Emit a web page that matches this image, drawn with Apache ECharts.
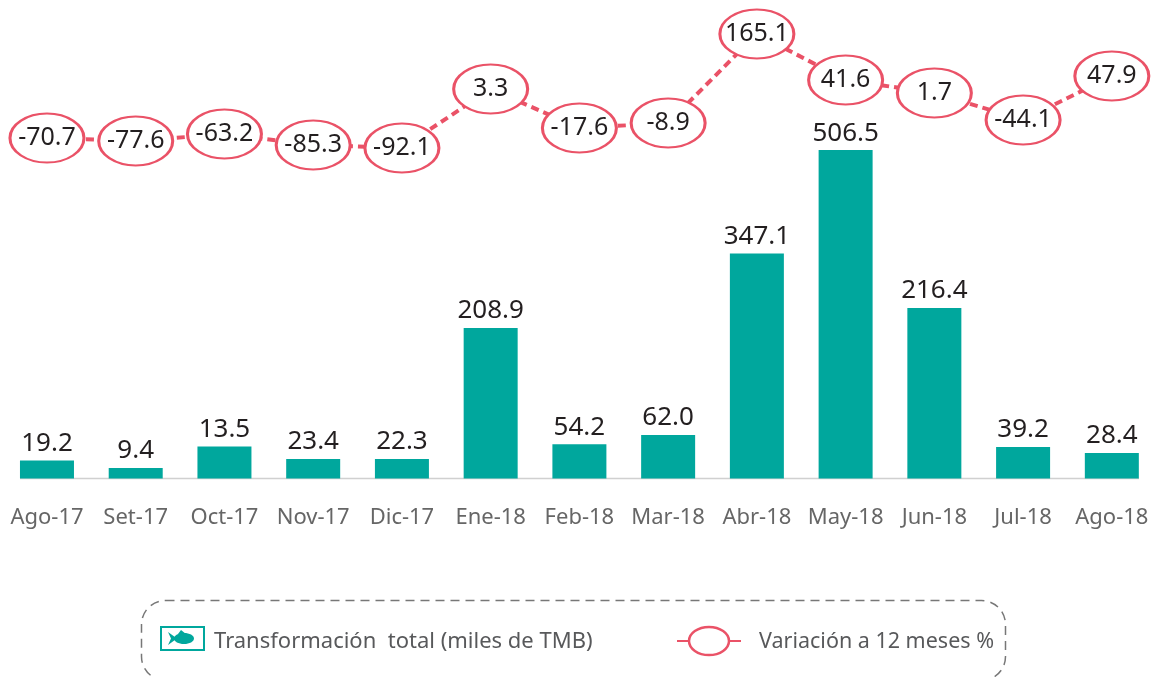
<!DOCTYPE html>
<html lang="es">
<head>
    <meta charset="UTF-8">
    <title>Transformación total</title>
    <script src="https://cdn.jsdelivr.net/npm/echarts@6/dist/echarts.min.js"></script>
    <style>
        html, body {margin: 0; padding: 0; background: #fff;}
    </style>
</head>
<body>
<div id="chart" style="width: 1157px;height: 677px;"></div>
<script>
    let months = ['Ago-17', 'Set-17', 'Oct-17', 'Nov-17', 'Dic-17', 'Ene-18', 'Feb-18', 'Mar-18', 'Abr-18', 'May-18', 'Jun-18', 'Jul-18', 'Ago-18'];
    // printed numbers
    let tmbLabels = ['19.2', '9.4', '13.5', '23.4', '22.3', '208.9', '54.2', '62.0', '347.1', '506.5', '216.4', '39.2', '28.4'];
    let varLabels = ['-70.7', '-77.6', '-63.2', '-85.3', '-92.1', '3.3', '-17.6', '-8.9', '165.1', '41.6', '1.7', '-44.1', '47.9'];
    // the picture does not draw to scale, these are the heights as read off the bars / ellipses
    let tmbDrawn = [27.8, 16.2, 49.3, 30, 30, 232, 53, 67, 347.1, 506.5, 263, 48.6, 39.3];
    let varDrawn = [-69.6, -76.3, -60.5, -85.3, -92.1, 40.9, -47, -35.7, 165, 61.2, 31.9, -29, 70.2];

    let teal = '#00A79D';
    let red = '#EA5267';
    let font = '"Noto Sans", sans-serif';

    var myChart = echarts.init(document.getElementById('chart'));
    var option = {
        animation: false,
        grid: {left: 2.6, right: 0.8, top: 0, bottom: 198.5},
        xAxis: {
            type: 'category',
            data: months,
            axisTick: {show: false},
            axisLine: {show: false},
            axisLabel: {color: '#666666', fontFamily: font, fontSize: 22, margin: 28, interval: 0}
        },
        yAxis: [
            {type: 'value', min: 0, max: 738, show: false},
            {type: 'value', min: -837, max: 241.5, show: false}
        ],
        series: [
            {
                name: 'Transformación total (miles de TMB)',
                type: 'bar',
                yAxisIndex: 0,
                data: tmbDrawn,
                barWidth: 54,
                itemStyle: {color: teal},
                label: {
                    show: true,
                    position: 'top',
                    distance: 4,
                    color: '#231F20',
                    fontFamily: font,
                    fontSize: 26,
                    formatter: function (p) {
                        return tmbLabels[p.dataIndex];
                    }
                }
            },
            {
                name: 'Variación a 12 meses %',
                type: 'line',
                yAxisIndex: 1,
                data: varDrawn,
                symbol: 'circle',
                symbolSize: [74, 49],
                showAllSymbol: true,
                lineStyle: {color: red, width: 4, type: [8, 5]},
                itemStyle: {color: '#ffffff', borderColor: red, borderWidth: 2.5},
                label: {
                    show: true,
                    position: 'inside',
                    color: '#231F20',
                    fontFamily: font,
                    fontSize: 25,
                    formatter: function (p) {
                        return varLabels[p.dataIndex];
                    }
                },
                z: 3
            }
        ],
        graphic: [
            // baseline
            {type: 'line', z: 1, shape: {x1: 20, y1: 478.5, x2: 1139, y2: 478.5}, style: {stroke: '#D0D0D0', lineWidth: 1.5}},
            // legend frame
            {type: 'rect', shape: {x: 141.5, y: 600.5, width: 864, height: 80, r: 24}, style: {fill: 'none', stroke: '#777777', lineWidth: 1.5, lineDash: [9, 6]}},
            // legend bar icon, fish from simple shapes
            {type: 'rect', shape: {x: 161, y: 627, width: 43, height: 23}, style: {fill: '#ffffff', stroke: teal, lineWidth: 2}},
            {type: 'ellipse', shape: {cx: 184, cy: 638.5, rx: 10, ry: 5.5}, style: {fill: teal}},
            {type: 'polygon', shape: {points: [[168, 632], [177, 638.5], [168, 645], [171, 638.5]]}, style: {fill: teal}},
            {type: 'polygon', shape: {points: [[178, 634], [181, 630], [186, 634]]}, style: {fill: teal}},
            {type: 'text', x: 214, y: 642, style: {text: 'Transformación  total (miles de TMB)', fill: '#58595B', font: '22px ' + font, textVerticalAlign: 'middle'}},
            // legend line icon
            {type: 'line', shape: {x1: 677, y1: 641, x2: 741, y2: 641}, style: {stroke: red, lineWidth: 2}},
            {type: 'ellipse', shape: {cx: 709, cy: 641, rx: 20, ry: 14}, style: {fill: '#ffffff', stroke: red, lineWidth: 2.5}},
            {type: 'text', x: 759, y: 642, style: {text: 'Variación a 12 meses %', fill: '#58595B', font: '21.5px ' + font, textVerticalAlign: 'middle'}}
        ]
    };
    myChart.setOption(option);
</script>
</body>
</html>
